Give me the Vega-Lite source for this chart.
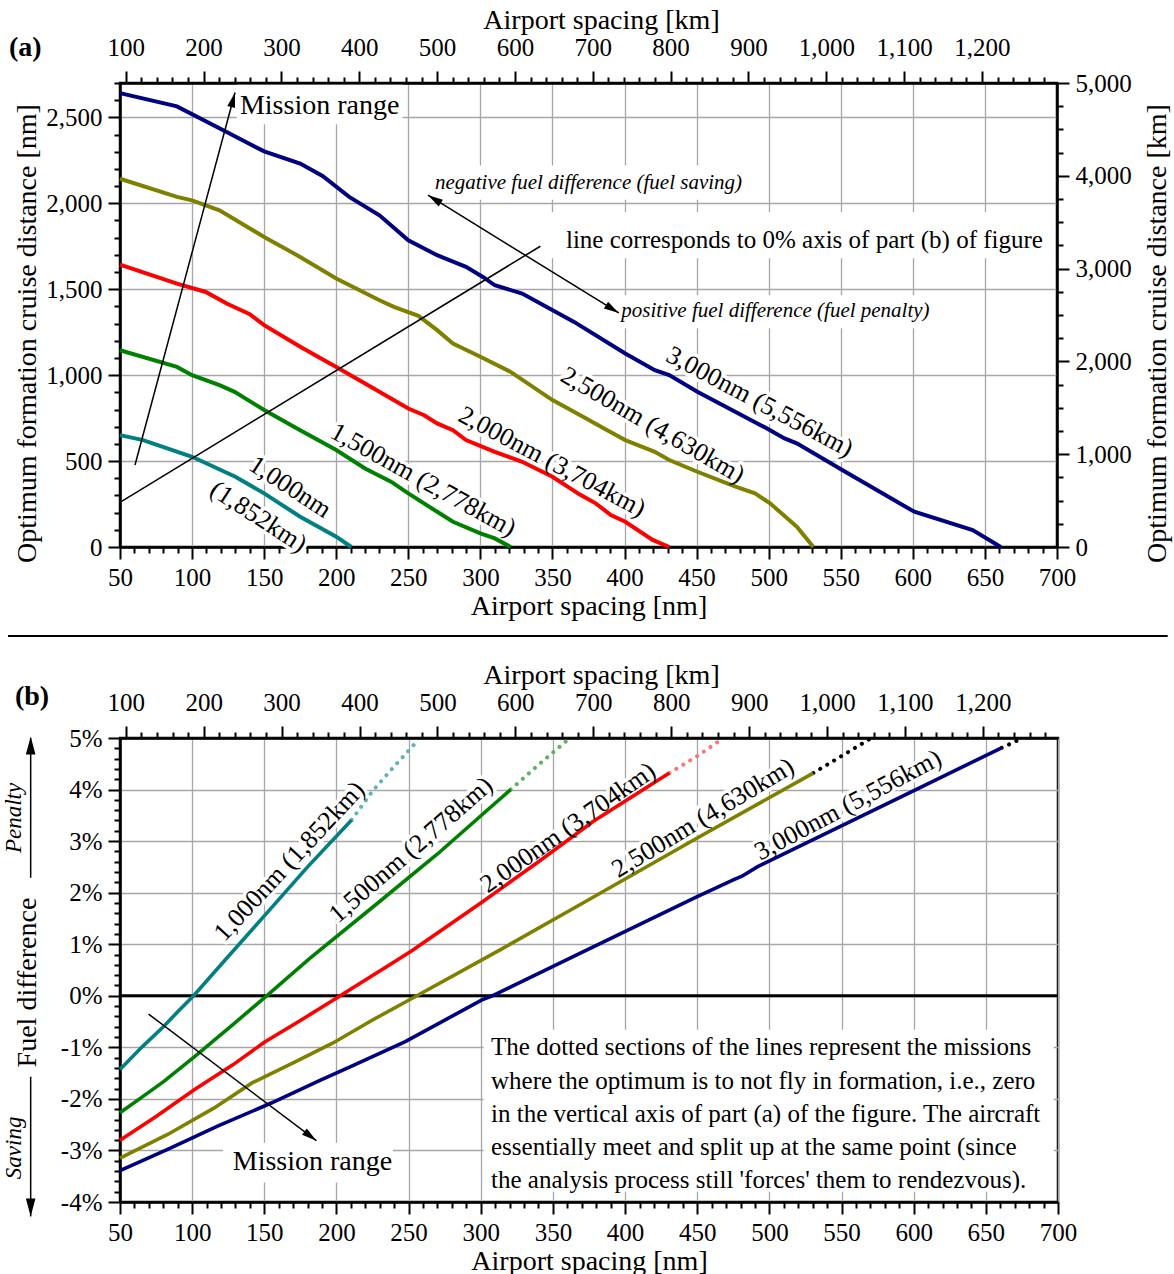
{
"$schema": "https://vega.github.io/schema/vega-lite/v6.json",
"background": "white",
"padding": {"left": 1, "top": 4, "right": 5, "bottom": 0},
"bounds": "flush",
"spacing": 191,
"config": {
  "font": "Liberation Serif",
  "view": {"stroke": "black", "strokeWidth": 2.5},
  "axis": {"labelFont": "Liberation Serif", "titleFont": "Liberation Serif", "labelFontSize": 25, "titleFontSize": 28, "titleFontWeight": "normal", "labelColor": "black", "titleColor": "black", "domainColor": "black", "domainWidth": 2.5, "tickColor": "black", "tickWidth": 2, "gridColor": "#a6a6a6", "gridWidth": 1.3, "labelOverlap": false, "labelFlush": false, "labelPadding": 6, "titlePadding": 4},
  "text": {"font": "Liberation Serif", "color": "black"}
},
"datasets": {
  "km": [{"xk": 100, "yk": 0}],
  "a_curves": [
    {"series": "1000", "x": 50, "y": 651}, {"series": "1000", "x": 66, "y": 622}, {"series": "1000", "x": 100, "y": 525}, {"series": "1000", "x": 130, "y": 409}, {"series": "1000", "x": 150, "y": 312}, {"series": "1000", "x": 175, "y": 176}, {"series": "1000", "x": 200, "y": 60}, {"series": "1000", "x": 210.5, "y": 0},
    {"series": "1500", "x": 50, "y": 1145}, {"series": "1500", "x": 89.5, "y": 1048}, {"series": "1500", "x": 100, "y": 1000}, {"series": "1500", "x": 119, "y": 942}, {"series": "1500", "x": 129.5, "y": 903}, {"series": "1500", "x": 150, "y": 797}, {"series": "1500", "x": 175, "y": 680}, {"series": "1500", "x": 200, "y": 564}, {"series": "1500", "x": 220, "y": 457}, {"series": "1500", "x": 238, "y": 380}, {"series": "1500", "x": 250, "y": 312}, {"series": "1500", "x": 270, "y": 205}, {"series": "1500", "x": 281, "y": 147}, {"series": "1500", "x": 300, "y": 79}, {"series": "1500", "x": 310, "y": 50}, {"series": "1500", "x": 321, "y": 0},
    {"series": "2000", "x": 50, "y": 1643}, {"series": "2000", "x": 89.5, "y": 1533}, {"series": "2000", "x": 109.5, "y": 1484}, {"series": "2000", "x": 124, "y": 1417}, {"series": "2000", "x": 140, "y": 1355}, {"series": "2000", "x": 150, "y": 1291}, {"series": "2000", "x": 175, "y": 1165}, {"series": "2000", "x": 200, "y": 1048}, {"series": "2000", "x": 220, "y": 952}, {"series": "2000", "x": 250, "y": 806}, {"series": "2000", "x": 261, "y": 767}, {"series": "2000", "x": 270, "y": 719}, {"series": "2000", "x": 281, "y": 680}, {"series": "2000", "x": 290, "y": 622}, {"series": "2000", "x": 310, "y": 554}, {"series": "2000", "x": 329, "y": 496}, {"series": "2000", "x": 350, "y": 409}, {"series": "2000", "x": 369, "y": 305}, {"series": "2000", "x": 380, "y": 254}, {"series": "2000", "x": 390.5, "y": 186}, {"series": "2000", "x": 400.5, "y": 147}, {"series": "2000", "x": 419.5, "y": 41}, {"series": "2000", "x": 431, "y": 0},
    {"series": "2500", "x": 50, "y": 2143}, {"series": "2500", "x": 89.5, "y": 2037}, {"series": "2500", "x": 100, "y": 2017}, {"series": "2500", "x": 119, "y": 1959}, {"series": "2500", "x": 150, "y": 1804}, {"series": "2500", "x": 175, "y": 1688}, {"series": "2500", "x": 200, "y": 1562}, {"series": "2500", "x": 230, "y": 1436}, {"series": "2500", "x": 240, "y": 1397}, {"series": "2500", "x": 257, "y": 1345}, {"series": "2500", "x": 270, "y": 1262}, {"series": "2500", "x": 281, "y": 1184}, {"series": "2500", "x": 300, "y": 1107}, {"series": "2500", "x": 321, "y": 1019}, {"series": "2500", "x": 350, "y": 855}, {"series": "2500", "x": 369, "y": 768}, {"series": "2500", "x": 388, "y": 680}, {"series": "2500", "x": 400.5, "y": 622}, {"series": "2500", "x": 421, "y": 554}, {"series": "2500", "x": 431, "y": 506}, {"series": "2500", "x": 450.5, "y": 438}, {"series": "2500", "x": 477, "y": 351}, {"series": "2500", "x": 490.5, "y": 312}, {"series": "2500", "x": 501, "y": 254}, {"series": "2500", "x": 519.5, "y": 118}, {"series": "2500", "x": 531, "y": 0},
    {"series": "3000", "x": 50, "y": 2641}, {"series": "3000", "x": 89.5, "y": 2564}, {"series": "3000", "x": 124, "y": 2415}, {"series": "3000", "x": 150, "y": 2302}, {"series": "3000", "x": 175, "y": 2231}, {"series": "3000", "x": 190.5, "y": 2159}, {"series": "3000", "x": 209, "y": 2037}, {"series": "3000", "x": 230, "y": 1930}, {"series": "3000", "x": 250, "y": 1785}, {"series": "3000", "x": 270, "y": 1698}, {"series": "3000", "x": 290, "y": 1630}, {"series": "3000", "x": 302, "y": 1570}, {"series": "3000", "x": 310, "y": 1523}, {"series": "3000", "x": 329, "y": 1475}, {"series": "3000", "x": 365, "y": 1310}, {"series": "3000", "x": 400.5, "y": 1126}, {"series": "3000", "x": 421, "y": 1029}, {"series": "3000", "x": 431, "y": 1000}, {"series": "3000", "x": 450.5, "y": 903}, {"series": "3000", "x": 501, "y": 680}, {"series": "3000", "x": 511, "y": 632}, {"series": "3000", "x": 519.5, "y": 603}, {"series": "3000", "x": 551, "y": 448}, {"series": "3000", "x": 601, "y": 205}, {"series": "3000", "x": 641.5, "y": 99}, {"series": "3000", "x": 661, "y": 0}
  ],
  "a_labels": [
    {"series": "3000", "text": "3,000nm (5,556km)", "x": 493.8, "y": 845},
    {"series": "2500", "text": "2,500nm (4,630km)", "x": 419.6, "y": 709},
    {"series": "2000", "text": "2,000nm (3,704km)", "x": 349.7, "y": 496},
    {"series": "1500", "text": "1,500nm (2,778km)", "x": 260.4, "y": 389.5},
    {"series": "1000", "text": "1,000nm", "x": 168, "y": 349},
    {"series": "1000", "text": "(1,852km)", "x": 146, "y": 176}
  ],
  "a_text": [
    {"id": "tag", "text": "(a)", "x": -27, "y": 2901},
    {"id": "mr", "text": "Mission range", "x": 133.2, "y": 2564},
    {"id": "neg", "text": "negative fuel difference (fuel saving)", "x": 375, "y": 2116},
    {"id": "line", "text": "line corresponds to 0% axis of part (b) of figure", "x": 524.8, "y": 1785},
    {"id": "pos", "text": "positive fuel difference (fuel penalty)", "x": 504.7, "y": 1372}
  ],
  "a_boxes": [
    {"x": 131, "x2": 246, "y": 2460, "y2": 2690},
    {"x": 341, "x2": 698, "y": 1680, "y2": 1950},
    {"x": 268, "x2": 481, "y": 2020, "y2": 2220},
    {"x": 396, "x2": 613, "y": 1273, "y2": 1465}
  ],
  "a_rules": [
    {"x": 60.4, "y": 477, "x2": 129.8, "y2": 2645},
    {"x": 263.7, "y": 2047, "x2": 396, "y2": 1362},
    {"x": 50, "y": 260, "x2": 341.6, "y2": 1750}
  ],
  "a_heads": [
    {"id": "mr", "x": 129.8, "y": 2645},
    {"id": "pos", "x": 396, "y": 1362},
    {"id": "neg", "x": 263.7, "y": 2047}
  ],
  "b_solid": [
    {"series": "1000", "x": 50, "y": -1.43}, {"series": "1000", "x": 65, "y": -1.0}, {"series": "1000", "x": 80.4, "y": -0.59}, {"series": "1000", "x": 90, "y": -0.31}, {"series": "1000", "x": 101, "y": 0}, {"series": "1000", "x": 123, "y": 0.7}, {"series": "1000", "x": 150, "y": 1.55}, {"series": "1000", "x": 180, "y": 2.5}, {"series": "1000", "x": 210.5, "y": 3.41},
    {"series": "1500", "x": 50, "y": -2.27}, {"series": "1500", "x": 65, "y": -1.97}, {"series": "1500", "x": 80.4, "y": -1.66}, {"series": "1500", "x": 101.7, "y": -1.18}, {"series": "1500", "x": 128.2, "y": -0.56}, {"series": "1500", "x": 151.6, "y": 0}, {"series": "1500", "x": 181.3, "y": 0.72}, {"series": "1500", "x": 227.8, "y": 1.78}, {"series": "1500", "x": 270, "y": 2.75}, {"series": "1500", "x": 320.7, "y": 4.0},
    {"series": "2000", "x": 50, "y": -2.8}, {"series": "2000", "x": 75, "y": -2.34}, {"series": "2000", "x": 101.7, "y": -1.82}, {"series": "2000", "x": 128.2, "y": -1.34}, {"series": "2000", "x": 150, "y": -0.9}, {"series": "2000", "x": 175, "y": -0.48}, {"series": "2000", "x": 202.6, "y": 0}, {"series": "2000", "x": 242.4, "y": 0.7}, {"series": "2000", "x": 253, "y": 0.89}, {"series": "2000", "x": 300, "y": 1.8}, {"series": "2000", "x": 340, "y": 2.6}, {"series": "2000", "x": 377.8, "y": 3.38}, {"series": "2000", "x": 430.7, "y": 4.32},
    {"series": "2500", "x": 50, "y": -3.15}, {"series": "2500", "x": 83, "y": -2.69}, {"series": "2500", "x": 115, "y": -2.18}, {"series": "2500", "x": 141.5, "y": -1.69}, {"series": "2500", "x": 170, "y": -1.3}, {"series": "2500", "x": 197.3, "y": -0.92}, {"series": "2500", "x": 225, "y": -0.47}, {"series": "2500", "x": 255.7, "y": 0}, {"series": "2500", "x": 314, "y": 0.9}, {"series": "2500", "x": 370.8, "y": 1.8}, {"series": "2500", "x": 450, "y": 3.06}, {"series": "2500", "x": 530.4, "y": 4.32},
    {"series": "3000", "x": 50, "y": -3.39}, {"series": "3000", "x": 83, "y": -2.98}, {"series": "3000", "x": 117.6, "y": -2.53}, {"series": "3000", "x": 154.8, "y": -2.08}, {"series": "3000", "x": 189.3, "y": -1.63}, {"series": "3000", "x": 207.9, "y": -1.4}, {"series": "3000", "x": 247.7, "y": -0.89}, {"series": "3000", "x": 300.8, "y": -0.08}, {"series": "3000", "x": 308, "y": 0}, {"series": "3000", "x": 370.8, "y": 0.85}, {"series": "3000", "x": 449.6, "y": 1.92}, {"series": "3000", "x": 475, "y": 2.25}, {"series": "3000", "x": 481, "y": 2.32}, {"series": "3000", "x": 491.6, "y": 2.5}, {"series": "3000", "x": 596.6, "y": 3.93}, {"series": "3000", "x": 660.9, "y": 4.81}
  ],
  "b_dotted": [
    {"series": "1000", "x": 210.5, "y": 3.41}, {"series": "1000", "x": 225, "y": 3.97}, {"series": "1000", "x": 240, "y": 4.45}, {"series": "1000", "x": 257, "y": 4.97},
    {"series": "1500", "x": 320.7, "y": 4.0}, {"series": "1500", "x": 340, "y": 4.48}, {"series": "1500", "x": 360.5, "y": 4.97},
    {"series": "2000", "x": 430.7, "y": 4.32}, {"series": "2000", "x": 450, "y": 4.65}, {"series": "2000", "x": 466.7, "y": 4.97},
    {"series": "2500", "x": 530.4, "y": 4.32}, {"series": "2500", "x": 550, "y": 4.65}, {"series": "2500", "x": 569, "y": 4.97},
    {"series": "3000", "x": 660.9, "y": 4.81}, {"series": "3000", "x": 668, "y": 4.9}, {"series": "3000", "x": 675.3, "y": 5.0}
  ],
  "b_labels": [
    {"series": "1000", "text": "1,000nm (1,852km)", "x": 167.4, "y": 2.61},
    {"series": "1500", "text": "1,500nm (2,778km)", "x": 251.6, "y": 2.83},
    {"series": "2000", "text": "2,000nm (3,704km)", "x": 360.4, "y": 3.26},
    {"series": "2500", "text": "2,500nm (4,630km)", "x": 454, "y": 3.45},
    {"series": "3000", "text": "3,000nm (5,556km)", "x": 554.5, "y": 3.7}
  ],
  "b_boxes": [
    {"x": 302, "x2": 697, "y": -3.8, "y2": -0.66},
    {"x": 121.4, "x2": 239, "y": -3.62, "y2": -2.85}
  ],
  "b_rules": [
    {"x": 69.8, "y": -0.355, "x2": 186.1, "y2": -2.81},
    {"x": -11.9, "y": 2.29, "x2": -11.9, "y2": 5.0},
    {"x": -11.9, "y": -1.57, "x2": -11.9, "y2": -4.28}
  ],
  "b_zero": [{"x": 50, "x2": 700, "y": 0}],
  "b_sep": [{"x": -27.6, "x2": 776, "y": 6.98}],
  "b_heads": [
    {"id": "mr", "x": 186.1, "y": -2.81},
    {"id": "pen", "x": -11.9, "y": 5.03},
    {"id": "sav", "x": -11.9, "y": -4.28}
  ],
  "b_text": [
    {"id": "tag", "text": "(b)", "x": -22.8, "y": 5.79},
    {"id": "mr", "text": "Mission range", "x": 183.4, "y": -3.22},
    {"id": "pen", "text": "Penalty", "x": -23.5, "y": 3.45},
    {"id": "sav", "text": "Saving", "x": -23.5, "y": -2.95},
    {"id": "note", "text": "The dotted sections of the lines represent the missions", "x": 307.1, "y": -0.99},
    {"id": "note", "text": "where the optimum is to not fly in formation, i.e., zero", "x": 307.1, "y": -1.65},
    {"id": "note", "text": "in the vertical axis of part (a) of the figure. The aircraft", "x": 307.1, "y": -2.29},
    {"id": "note", "text": "essentially meet and split up at the same point (since", "x": 307.1, "y": -2.93},
    {"id": "note", "text": "the analysis process still 'forces' them to rendezvous).", "x": 307.1, "y": -3.57}
  ]
},
"vconcat": [
  {
    "width": 937, "height": 464,
    "resolve": {"scale": {"x": "independent", "y": "independent"}},
    "layer": [
      {
        "encoding": {
          "x": {"field": "x", "type": "quantitative", "scale": {"domain": [50, 700], "nice": false, "zero": false},
            "axis": {"title": "Airport spacing [nm]", "orient": "bottom", "values": [50,60,70,80,90,100,110,120,130,140,150,160,170,180,190,200,210,220,230,240,250,260,270,280,290,300,310,320,330,340,350,360,370,380,390,400,410,420,430,440,450,460,470,480,490,500,510,520,530,540,550,560,570,580,590,600,610,620,630,640,650,660,670,680,690,700], "format": "d", "labelExpr": "datum.value % 50 === 0 ? datum.label : ''", "tickSize": {"condition": {"test": "datum.value % 50 === 0", "value": 12}, "value": 6}, "grid": true, "gridOpacity": {"condition": {"test": "datum.value % 50 === 0", "value": 1}, "value": 0}, "titlePadding": 2}},
          "y": {"field": "y", "type": "quantitative", "scale": {"domain": [0, 2700], "nice": false, "zero": false},
            "axis": {"title": "Optimum formation cruise distance [nm]", "values": [0,100,200,300,400,500,600,700,800,900,1000,1100,1200,1300,1400,1500,1600,1700,1800,1900,2000,2100,2200,2300,2400,2500,2600,2700], "format": ",d", "labelExpr": "datum.value % 500 === 0 ? datum.label : ''", "tickSize": {"condition": {"test": "datum.value % 500 === 0", "value": 12}, "value": 6}, "grid": true, "gridOpacity": {"condition": {"test": "datum.value % 500 === 0", "value": 1}, "value": 0}, "titleY": 250, "titleX": -93, "titleBaseline": "middle"}}
        },
        "layer": [
          {"data": {"name": "a_boxes"}, "mark": {"type": "rect", "color": "white"}, "encoding": {"x2": {"field": "x2"}, "y2": {"field": "y2"}}},
          {"data": {"name": "a_labels"}, "transform": [{"filter": "datum.series === '3000' || datum.series === '2000'"}], "mark": {"type": "text", "angle": 28, "fontSize": 26, "fill": "white", "stroke": "white", "strokeWidth": 7, "strokeJoin": "round"}, "encoding": {"text": {"field": "text"}}},
          {"data": {"name": "a_labels"}, "transform": [{"filter": "datum.series === '2500'"}], "mark": {"type": "text", "angle": 30, "fontSize": 26, "fill": "white", "stroke": "white", "strokeWidth": 7, "strokeJoin": "round"}, "encoding": {"text": {"field": "text"}}},
          {"data": {"name": "a_labels"}, "transform": [{"filter": "datum.series === '1500'"}], "mark": {"type": "text", "angle": 29, "fontSize": 26, "fill": "white", "stroke": "white", "strokeWidth": 7, "strokeJoin": "round"}, "encoding": {"text": {"field": "text"}}},
          {"data": {"name": "a_labels"}, "transform": [{"filter": "datum.series === '1000'"}], "mark": {"type": "text", "angle": 33, "fontSize": 26, "fill": "white", "stroke": "white", "strokeWidth": 7, "strokeJoin": "round"}, "encoding": {"text": {"field": "text"}}},
          {"data": {"name": "a_curves"}, "mark": {"type": "line", "strokeWidth": 4}, "encoding": {"color": {"field": "series", "type": "nominal", "scale": {"domain": ["1000","1500","2000","2500","3000"], "range": ["#008080","#008000","#ff0000","#808000","#000080"]}, "legend": null}}},
          {"data": {"name": "a_rules"}, "mark": {"type": "rule", "color": "black", "strokeWidth": 1.5}, "encoding": {"x2": {"field": "x2"}, "y2": {"field": "y2"}}},
          {"data": {"name": "a_heads"}, "transform": [{"filter": "datum.id === 'mr'"}], "mark": {"type": "point", "shape": "M0,0L-0.8,3L0.8,3Z", "size": 100, "filled": true, "color": "black", "opacity": 1, "angle": 15}},
          {"data": {"name": "a_heads"}, "transform": [{"filter": "datum.id === 'pos'"}], "mark": {"type": "point", "shape": "M0,0L-0.8,3L0.8,3Z", "size": 100, "filled": true, "color": "black", "opacity": 1, "angle": 121.7}},
          {"data": {"name": "a_heads"}, "transform": [{"filter": "datum.id === 'neg'"}], "mark": {"type": "point", "shape": "M0,0L-0.8,3L0.8,3Z", "size": 100, "filled": true, "color": "black", "opacity": 1, "angle": -58.3}},
          {"data": {"name": "a_labels"}, "transform": [{"filter": "datum.series === '3000' || datum.series === '2000'"}], "mark": {"type": "text", "angle": 28, "fontSize": 26}, "encoding": {"text": {"field": "text"}}},
          {"data": {"name": "a_labels"}, "transform": [{"filter": "datum.series === '2500'"}], "mark": {"type": "text", "angle": 30, "fontSize": 26}, "encoding": {"text": {"field": "text"}}},
          {"data": {"name": "a_labels"}, "transform": [{"filter": "datum.series === '1500'"}], "mark": {"type": "text", "angle": 29, "fontSize": 26}, "encoding": {"text": {"field": "text"}}},
          {"data": {"name": "a_labels"}, "transform": [{"filter": "datum.series === '1000'"}], "mark": {"type": "text", "angle": 33, "fontSize": 26}, "encoding": {"text": {"field": "text"}}},
          {"data": {"name": "a_text"}, "transform": [{"filter": "datum.id === 'tag'"}], "mark": {"type": "text", "fontSize": 28, "fontWeight": "bold", "align": "left", "baseline": "middle"}, "encoding": {"text": {"field": "text"}}},
          {"data": {"name": "a_text"}, "transform": [{"filter": "datum.id === 'mr'"}], "mark": {"type": "text", "fontSize": 28, "align": "left", "baseline": "middle"}, "encoding": {"text": {"field": "text"}}},
          {"data": {"name": "a_text"}, "transform": [{"filter": "datum.id === 'line'"}], "mark": {"type": "text", "fontSize": 25, "align": "center", "baseline": "middle"}, "encoding": {"text": {"field": "text"}}},
          {"data": {"name": "a_text"}, "transform": [{"filter": "datum.id === 'neg' || datum.id === 'pos'"}], "mark": {"type": "text", "fontSize": 21, "fontStyle": "italic", "align": "center", "baseline": "middle"}, "encoding": {"text": {"field": "text"}}}
        ]
      },
      {
        "data": {"name": "km"},
        "mark": {"type": "point", "opacity": 0},
        "encoding": {
          "x": {"field": "xk", "type": "quantitative", "scale": {"domain": [92.6, 1296.4], "nice": false, "zero": false},
            "axis": {"title": "Airport spacing [km]", "orient": "top", "values": [100,120,140,160,180,200,220,240,260,280,300,320,340,360,380,400,420,440,460,480,500,520,540,560,580,600,620,640,660,680,700,720,740,760,780,800,820,840,860,880,900,920,940,960,980,1000,1020,1040,1060,1080,1100,1120,1140,1160,1180,1200,1220,1240,1260,1280], "format": ",d", "labelExpr": "datum.value % 100 === 0 ? datum.label : ''", "tickSize": {"condition": {"test": "datum.value % 100 === 0", "value": 12}, "value": 6}, "grid": false, "titleX": 481, "labelPadding": 11, "titlePadding": 1}},
          "y": {"field": "yk", "type": "quantitative", "scale": {"domain": [0, 5000.4], "nice": false, "zero": false},
            "axis": {"title": "Optimum formation cruise distance [km]", "orient": "right", "values": [0,250,500,750,1000,1250,1500,1750,2000,2250,2500,2750,3000,3250,3500,3750,4000,4250,4500,4750,5000], "format": ",d", "labelExpr": "datum.value % 1000 === 0 ? datum.label : ''", "tickSize": {"condition": {"test": "datum.value % 1000 === 0", "value": 12}, "value": 6}, "grid": false, "titleAngle": 270, "titleY": 250, "titleX": 100, "titleBaseline": "middle"}}
        }
      }
    ]
  },
  {
    "width": 938, "height": 464,
    "resolve": {"scale": {"x": "independent"}},
    "layer": [
      {
        "encoding": {
          "x": {"field": "x", "type": "quantitative", "scale": {"domain": [50, 700], "nice": false, "zero": false},
            "axis": {"title": "Airport spacing [nm]", "orient": "bottom", "values": [50,60,70,80,90,100,110,120,130,140,150,160,170,180,190,200,210,220,230,240,250,260,270,280,290,300,310,320,330,340,350,360,370,380,390,400,410,420,430,440,450,460,470,480,490,500,510,520,530,540,550,560,570,580,590,600,610,620,630,640,650,660,670,680,690,700], "format": "d", "labelExpr": "datum.value % 50 === 0 ? datum.label : ''", "tickSize": {"condition": {"test": "datum.value % 50 === 0", "value": 12}, "value": 6}, "grid": true, "gridOpacity": {"condition": {"test": "datum.value % 50 === 0", "value": 1}, "value": 0}, "titlePadding": 2}},
          "y": {"field": "y", "type": "quantitative", "scale": {"domain": [-4, 5], "nice": false, "zero": false},
            "axis": {"title": "Fuel difference", "values": [-4,-3.8,-3.6,-3.4,-3.2,-3,-2.8,-2.6,-2.4,-2.2,-2,-1.8,-1.6,-1.4,-1.2,-1,-0.8,-0.6,-0.4,-0.2,0,0.2,0.4,0.6,0.8,1,1.2,1.4,1.6,1.8,2,2.2,2.4,2.6,2.8,3,3.2,3.4,3.6,3.8,4,4.2,4.4,4.6,4.8,5], "labelExpr": "abs(datum.value - round(datum.value)) < 0.01 ? round(datum.value) + '%' : ''", "tickSize": {"condition": {"test": "abs(datum.value - round(datum.value)) < 0.01", "value": 12}, "value": 6}, "grid": true, "gridOpacity": {"condition": {"test": "abs(datum.value - round(datum.value)) < 0.01", "value": 1}, "value": 0}, "titleY": 244, "titleX": -93, "titleBaseline": "middle"}}
        },
        "layer": [
          {"data": {"name": "b_boxes"}, "mark": {"type": "rect", "color": "white"}, "encoding": {"x2": {"field": "x2"}, "y2": {"field": "y2"}}},
          {"data": {"name": "b_labels"}, "transform": [{"filter": "datum.series === '1000'"}], "mark": {"type": "text", "angle": -47, "fontSize": 26, "fill": "white", "stroke": "white", "strokeWidth": 7, "strokeJoin": "round"}, "encoding": {"text": {"field": "text"}}},
          {"data": {"name": "b_labels"}, "transform": [{"filter": "datum.series === '1500'"}], "mark": {"type": "text", "angle": -41, "fontSize": 26, "fill": "white", "stroke": "white", "strokeWidth": 7, "strokeJoin": "round"}, "encoding": {"text": {"field": "text"}}},
          {"data": {"name": "b_labels"}, "transform": [{"filter": "datum.series === '2000'"}], "mark": {"type": "text", "angle": -35, "fontSize": 26, "fill": "white", "stroke": "white", "strokeWidth": 7, "strokeJoin": "round"}, "encoding": {"text": {"field": "text"}}},
          {"data": {"name": "b_labels"}, "transform": [{"filter": "datum.series === '2500'"}], "mark": {"type": "text", "angle": -31, "fontSize": 26, "fill": "white", "stroke": "white", "strokeWidth": 7, "strokeJoin": "round"}, "encoding": {"text": {"field": "text"}}},
          {"data": {"name": "b_labels"}, "transform": [{"filter": "datum.series === '3000'"}], "mark": {"type": "text", "angle": -28, "fontSize": 26, "fill": "white", "stroke": "white", "strokeWidth": 7, "strokeJoin": "round"}, "encoding": {"text": {"field": "text"}}},
          {"data": {"name": "b_zero"}, "mark": {"type": "rule", "color": "black", "strokeWidth": 3}, "encoding": {"x2": {"field": "x2"}}},
          {"data": {"name": "b_sep"}, "mark": {"type": "rule", "color": "black", "strokeWidth": 2}, "encoding": {"x2": {"field": "x2"}}},
          {"data": {"name": "b_dotted"}, "mark": {"type": "line", "strokeWidth": 4, "strokeDash": [0.1, 8], "strokeCap": "round"}, "encoding": {"stroke": {"field": "series", "type": "nominal", "scale": {"domain": ["1000","1500","2000","2500","3000"], "range": ["#5fb3b3","#5fb35f","#ff7373","#000000","#000000"]}, "legend": null}}},
          {"data": {"name": "b_solid"}, "mark": {"type": "line", "strokeWidth": 3.6}, "encoding": {"color": {"field": "series", "type": "nominal", "scale": {"domain": ["1000","1500","2000","2500","3000"], "range": ["#008080","#008000","#ff0000","#808000","#000080"]}, "legend": null}}},
          {"data": {"name": "b_rules"}, "mark": {"type": "rule", "color": "black", "strokeWidth": 1.5}, "encoding": {"x2": {"field": "x2"}, "y2": {"field": "y2"}}},
          {"data": {"name": "b_heads"}, "transform": [{"filter": "datum.id === 'mr'"}], "mark": {"type": "point", "shape": "M0,0L-0.8,3L0.8,3Z", "size": 100, "filled": true, "color": "black", "opacity": 1, "angle": 127}},
          {"data": {"name": "b_heads"}, "transform": [{"filter": "datum.id === 'pen'"}], "mark": {"type": "point", "shape": "M0,0L-0.8,3L0.8,3Z", "size": 144, "filled": true, "color": "black", "opacity": 1, "angle": 0}},
          {"data": {"name": "b_heads"}, "transform": [{"filter": "datum.id === 'sav'"}], "mark": {"type": "point", "shape": "M0,0L-0.8,3L0.8,3Z", "size": 144, "filled": true, "color": "black", "opacity": 1, "angle": 180}},
          {"data": {"name": "b_labels"}, "transform": [{"filter": "datum.series === '1000'"}], "mark": {"type": "text", "angle": -47, "fontSize": 26}, "encoding": {"text": {"field": "text"}}},
          {"data": {"name": "b_labels"}, "transform": [{"filter": "datum.series === '1500'"}], "mark": {"type": "text", "angle": -41, "fontSize": 26}, "encoding": {"text": {"field": "text"}}},
          {"data": {"name": "b_labels"}, "transform": [{"filter": "datum.series === '2000'"}], "mark": {"type": "text", "angle": -35, "fontSize": 26}, "encoding": {"text": {"field": "text"}}},
          {"data": {"name": "b_labels"}, "transform": [{"filter": "datum.series === '2500'"}], "mark": {"type": "text", "angle": -31, "fontSize": 26}, "encoding": {"text": {"field": "text"}}},
          {"data": {"name": "b_labels"}, "transform": [{"filter": "datum.series === '3000'"}], "mark": {"type": "text", "angle": -28, "fontSize": 26}, "encoding": {"text": {"field": "text"}}},
          {"data": {"name": "b_text"}, "transform": [{"filter": "datum.id === 'tag'"}], "mark": {"type": "text", "fontSize": 28, "fontWeight": "bold", "align": "left", "baseline": "middle"}, "encoding": {"text": {"field": "text"}}},
          {"data": {"name": "b_text"}, "transform": [{"filter": "datum.id === 'mr'"}], "mark": {"type": "text", "fontSize": 28, "align": "center", "baseline": "middle"}, "encoding": {"text": {"field": "text"}}},
          {"data": {"name": "b_text"}, "transform": [{"filter": "datum.id === 'note'"}], "mark": {"type": "text", "fontSize": 25, "align": "left", "baseline": "middle"}, "encoding": {"text": {"field": "text"}}},
          {"data": {"name": "b_text"}, "transform": [{"filter": "datum.id === 'pen' || datum.id === 'sav'"}], "mark": {"type": "text", "fontSize": 23, "fontStyle": "italic", "angle": 270, "align": "center", "baseline": "middle"}, "encoding": {"text": {"field": "text"}}}
        ]
      },
      {
        "data": {"name": "km"},
        "mark": {"type": "point", "opacity": 0},
        "encoding": {
          "x": {"field": "xk", "type": "quantitative", "scale": {"domain": [92.6, 1296.4], "nice": false, "zero": false},
            "axis": {"title": "Airport spacing [km]", "orient": "top", "values": [100,120,140,160,180,200,220,240,260,280,300,320,340,360,380,400,420,440,460,480,500,520,540,560,580,600,620,640,660,680,700,720,740,760,780,800,820,840,860,880,900,920,940,960,980,1000,1020,1040,1060,1080,1100,1120,1140,1160,1180,1200,1220,1240,1260,1280], "format": ",d", "labelExpr": "datum.value % 100 === 0 ? datum.label : ''", "tickSize": {"condition": {"test": "datum.value % 100 === 0", "value": 12}, "value": 6}, "grid": false, "titleX": 481, "labelPadding": 11, "titlePadding": 1}}
        }
      }
    ]
  }
]
}
